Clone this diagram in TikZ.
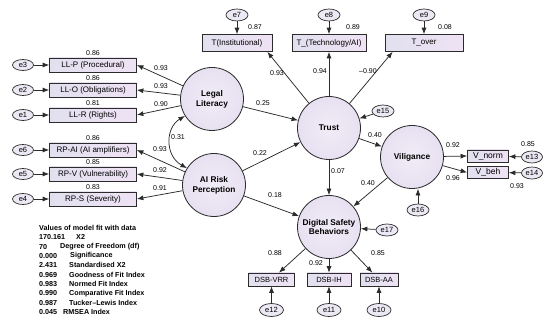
\documentclass[tikz,border=0pt]{standalone}
\usepackage{fontspec}
\setmainfont{Liberation Sans}
\usetikzlibrary{arrows.meta,shapes.geometric,calc}
\definecolor{boxL}{HTML}{E2E0EF}
\definecolor{boxR}{HTML}{EEE2F4}
\definecolor{circfill}{HTML}{E7E0F1}
\definecolor{efill}{HTML}{ECE8F4}
\definecolor{ink}{HTML}{2B2B2B}
\begin{document}
\begin{tikzpicture}[x=1pt,y=-1pt,
  ar/.style={-{Latex[length=6.5pt,width=5pt]},draw=ink,line width=0.75pt},
  dar/.style={{Latex[length=6.5pt,width=5pt]}-{Latex[length=6.5pt,width=5pt]},draw=ink,line width=0.75pt},
  obs/.style={draw=ink,line width=0.7pt,left color=boxL,right color=boxR,inner sep=0pt,minimum height=14pt,font=\fontsize{8}{9}\selectfont},
  lat/.style={circle,draw=ink,line width=0.8pt,inner color=white!40!circfill,outer color=circfill,minimum size=63pt,inner sep=0pt,align=center,font=\bfseries\fontsize{8.3}{9.8}\selectfont},
  err/.style={ellipse,draw=ink,line width=0.7pt,fill=efill,minimum width=22pt,minimum height=12pt,inner sep=0pt,font=\fontsize{7.5}{8}\selectfont},
  lab/.style={font=\fontsize{7}{8}\selectfont,inner sep=0pt},
  fitt/.style={font=\bfseries\fontsize{7.2}{8}\selectfont,anchor=west,inner sep=0pt}]
\useasboundingbox (0,0) rectangle (550,334);
\fill[white] (0,0) rectangle (550,334);

% latent variables
\node[lat] (LL) at (212,99) {Legal\\Literacy};
\node[lat] (AIRP) at (214,185) {AI Risk\\Perception};
\node[lat] (Trust) at (329,128) {Trust};
\node[lat] (Vil) at (412,157) {Viligance};
\node[lat] (DSB) at (329,227) {Digital Safety\\Behaviors};

% left indicators
\node[obs,minimum width=87pt] (LLP) at (93,65) {LL-P (Procedural)};
\node[obs,minimum width=87pt] (LLO) at (93,90) {LL-O (Obligations)};
\node[obs,minimum width=87pt] (LLR) at (93,115) {LL-R (Rights)};
\node[obs,minimum width=87pt] (RPAI) at (93,150) {RP-AI (AI amplifiers)};
\node[obs,minimum width=87pt] (RPV) at (93,174) {RP-V (Vulnerability)};
\node[obs,minimum width=87pt] (RPS) at (93,199) {RP-S (Severity)};
\node[err,minimum width=21pt,minimum height=11pt] (e3) at (23,65) {e3};
\node[err,minimum width=21pt,minimum height=11pt] (e2) at (23,90) {e2};
\node[err,minimum width=21pt,minimum height=11pt] (e1) at (23,115) {e1};
\node[err,minimum width=21pt,minimum height=11pt] (e6) at (23,150) {e6};
\node[err,minimum width=21pt,minimum height=11pt] (e5) at (23,174) {e5};
\node[err,minimum width=21pt,minimum height=11pt] (e4) at (23,199) {e4};
\foreach \e/\b in {e3/LLP,e2/LLO,e1/LLR,e6/RPAI,e5/RPV,e4/RPS} \draw[ar] (\e) -- (\b);
\node[lab] (r1) at (93,53) {0.86};
\node[lab] (r2) at (93,78) {0.86};
\node[lab] (r3) at (93,103) {0.81};
\node[lab] (r4) at (93,138) {0.86};
\node[lab] (r5) at (93,162) {0.85};
\node[lab] (r6) at (93,187) {0.83};
\draw[ar] (LL) -- (LLP.east);
\draw[ar] (LL) -- (LLO.east);
\draw[ar] (LL) -- (LLR.east);
\draw[ar] (AIRP) -- (RPAI.east);
\draw[ar] (AIRP) -- (RPV.east);
\draw[ar] (AIRP) -- (RPS.east);
\node[lab] (l1) at (161,68) {0.93};
\node[lab] (l2) at (161,86) {0.93};
\node[lab] (l3) at (161,104) {0.90};
\node[lab] (l4) at (160,149) {0.93};
\node[lab] (l5) at (160,170) {0.92};
\node[lab] (l6) at (160,188) {0.91};

% covariance
\draw[dar] (LL.212) .. controls (165,128) and (165,156) .. (AIRP.148);
\node[lab] (cov) at (178,137) {0.31};

% trust indicators
\node[obs,minimum width=70pt,minimum height=17pt] (Tinst) at (237,43) {T(Institutional)};
\node[obs,minimum width=74pt,minimum height=17pt] (Ttech) at (329,43) {T\_(Technology/AI)};
\node[obs,minimum width=78pt,minimum height=17pt] (Tover) at (424,43) {T\_over};
\node[err] (e7) at (237,15) {e7};
\node[err] (e8) at (329,15) {e8};
\node[err] (e9) at (424,15) {e9};
\draw[ar] (e7) -- (Tinst);
\draw[ar] (e8) -- (Ttech);
\draw[ar] (e9) -- (Tover);
\node[lab] (t1) at (255,27) {0.87};
\node[lab] (t2) at (353,27) {0.89};
\node[lab] (t3) at (445,27) {0.08};
\draw[ar] (Trust) -- ($(Tinst.south east)+(-5,0)$);
\draw[ar] (Trust) -- (Ttech);
\draw[ar] (Trust) -- ($(Tover.south west)+(8,0)$);
\node[lab] (p1) at (277,73) {0.93};
\node[lab] (p2) at (320,71) {0.94};
\node[lab] (p3) at (368,71) {–0.90};
\node[err] (e15) at (383,111) {e15};
\draw[ar] (e15) -- (Trust);

% structural paths
\draw[ar] (LL) -- (Trust);
\draw[ar] (AIRP) -- (Trust);
\draw[ar] (AIRP) -- (DSB);
\draw[ar] (Trust) -- (DSB);
\draw[ar] (Trust) -- (Vil);
\draw[ar] (Vil) -- (DSB);
\node[lab] (s1) at (263,103) {0.25};
\node[lab] (s2) at (260,153) {0.22};
\node[lab] (s3) at (275,195) {0.18};
\node[lab] (s4) at (338,171) {0.07};
\node[lab] (s5) at (375,135) {0.40};
\node[lab] (s6) at (368,183) {0.40};

% viligance indicators
\node[obs,minimum width=41pt,minimum height=12pt,font=\fontsize{8.5}{9}\selectfont] (Vnorm) at (488,156) {V\_norm};
\node[obs,minimum width=41pt,minimum height=12pt,font=\fontsize{8.5}{9}\selectfont] (Vbeh) at (488,172.5) {V\_beh};
\node[err,minimum width=21pt] (e13) at (532,157) {e13};
\node[err,minimum width=21pt] (e14) at (532,173) {e14};
\draw[ar] (Vil) -- (Vnorm.west);
\draw[ar] (Vil) -- (Vbeh.west);
\draw[ar] (e13) -- (Vnorm);
\draw[ar] (e14) -- (Vbeh);
\node[lab] (v1) at (453,145) {0.92};
\node[lab] (v2) at (453,178) {0.96};
\node[lab] (v3) at (528,144) {0.85};
\node[lab] (v4) at (517,186) {0.93};
\node[err] (e16) at (418,210) {e16};
\draw[ar] (e16) -- (e16 |- Vil.south);

% DSB indicators
\node[err] (e17) at (387,230) {e17};
\draw[ar] (e17) -- (DSB);
\node[obs,minimum width=46pt,minimum height=13pt,font=\fontsize{7.5}{8}\selectfont] (VRR) at (271.5,279.5) {DSB-VRR};
\node[obs,minimum width=44pt,minimum height=13pt,font=\fontsize{7.5}{8}\selectfont] (IH) at (329,279.5) {DSB-IH};
\node[obs,minimum width=38pt,minimum height=13pt,font=\fontsize{7.5}{8}\selectfont] (AA) at (379,279.5) {DSB-AA};
\node[err,minimum width=24pt,minimum height=13pt] (e12) at (271.5,310) {e12};
\node[err,minimum width=24pt,minimum height=13pt] (e11) at (329,310) {e11};
\node[err,minimum width=24pt,minimum height=13pt] (e10) at (379,310) {e10};
\draw[ar] (DSB) -- (VRR);
\draw[ar] (DSB) -- (IH);
\draw[ar] (DSB) -- (AA);
\draw[ar] (e12) -- (VRR);
\draw[ar] (e11) -- (IH);
\draw[ar] (e10) -- (AA);
\node[lab] (d1) at (275,253) {0.88};
\node[lab] (d2) at (316,263) {0.92};
\node[lab] (d3) at (378,253) {0.85};

% fit indices
\node[fitt] (f0) at (39,228) {Values of model fit with data};
\node[fitt] (f1a) at (39,237.3) {170.161};
\node[fitt] (f1b) at (76,237.3) {X2};
\node[fitt] (f2a) at (39,246.7) {70};
\node[fitt] (f2b) at (60,246.7) {Degree of Freedom (df)};
\node[fitt] (f3a) at (39,256) {0.000};
\node[fitt] (f3b) at (70,256) {Significance};
\node[fitt] (f4a) at (39,265.4) {2.431};
\node[fitt] (f4b) at (69,265.4) {Standardised X2};
\node[fitt] (f5a) at (39,274.7) {0.969};
\node[fitt] (f5b) at (69,274.7) {Goodness of Fit Index};
\node[fitt] (f6a) at (39,284) {0.983};
\node[fitt] (f6b) at (69,284) {Normed Fit Index};
\node[fitt] (f7a) at (39,293.4) {0.990};
\node[fitt] (f7b) at (69,293.4) {Comparative Fit Index};
\node[fitt] (f8a) at (39,302.7) {0.987};
\node[fitt] (f8b) at (69,302.7) {Tucker–Lewis Index};
\node[fitt] (f9a) at (39,312) {0.045};
\node[fitt] (f9b) at (63,312) {RMSEA Index};
\end{tikzpicture}
\end{document}
